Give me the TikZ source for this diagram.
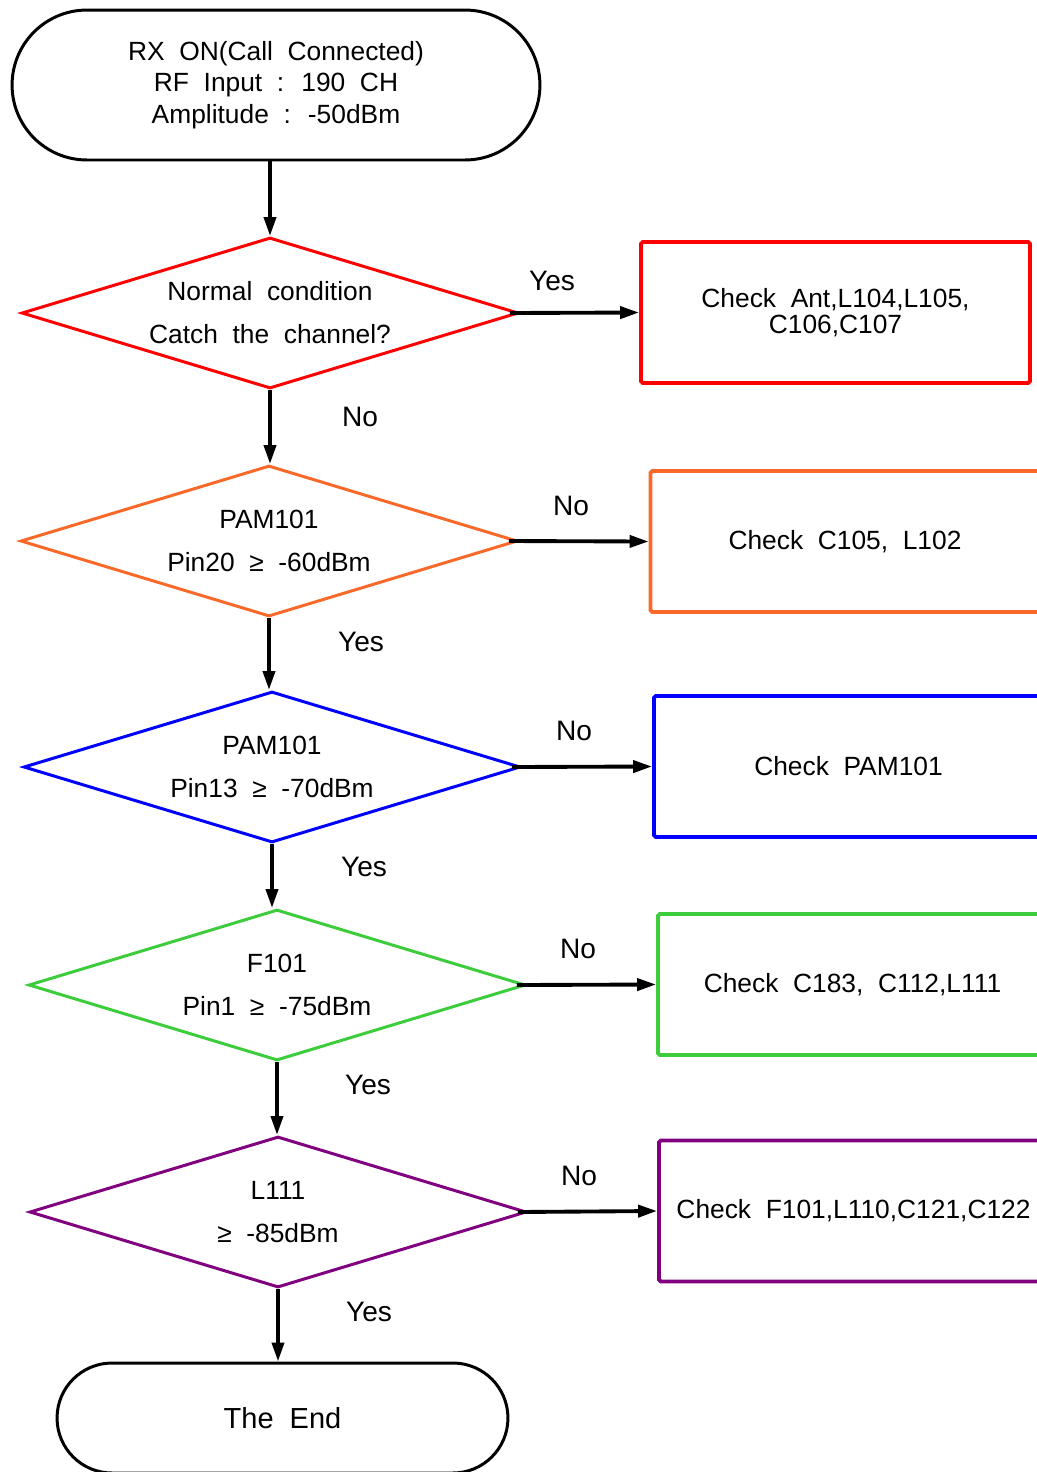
\documentclass[tikz,border=0pt]{standalone}
\usepackage{fontspec}
\setmainfont{Liberation Sans}[WordSpace=2]
\usetikzlibrary{shapes.geometric,arrows.meta}
\definecolor{fcred}{HTML}{FF0000}
\definecolor{fcorange}{HTML}{F9692A}
\definecolor{fcblue}{HTML}{0000FF}
\definecolor{fcgreen}{HTML}{3CCC3C}
\definecolor{fcpurple}{HTML}{800080}

\begin{document}
\begin{tikzpicture}[x=0.02cm, y=-0.02cm,
  term/.style={draw=black, line width=1.7pt, rectangle, rounded corners=1.5cm, minimum width=10.56cm, minimum height=3cm, align=center, font=\fontsize{15}{18.1}\selectfont},
  decide/.style={draw=#1, line width=1.7pt, diamond, shape aspect=3.3, inner sep=0pt, minimum width=9.94cm, minimum height=3.02cm, align=center, font=\fontsize{15}{24.4}\selectfont},
  checkbox/.style={draw=#1, line width=2.2pt, rectangle, rounded corners=1pt, minimum width=7.78cm, minimum height=2.82cm, align=center, font=\fontsize{15}{14.7}\selectfont},
  flow/.style={line width=2.2pt, -{Triangle[length=10.8pt,width=6.8pt]}},
  lbl/.style={font=\fontsize{16}{19}\selectfont}]
  \useasboundingbox (0,0) rectangle (1036,1472);
  \node[term] (start) at (276,85) {RX ON(Call Connected)\\RF Input : 190 CH\\Amplitude : -50dBm};
  \node[decide=fcred] (d1) at (270,313) {Normal condition\\Catch the channel?};
  \node[decide=fcorange] (d2) at (269,541) {PAM101\\Pin20 ≥ -60dBm};
  \node[decide=fcblue] (d3) at (272,767) {PAM101\\Pin13 ≥ -70dBm};
  \node[decide=fcgreen] (d4) at (277,985) {F101\\Pin1 ≥ -75dBm};
  \node[decide=fcpurple] (d5) at (278,1212) {L111\\≥ -85dBm};
  \node[term, minimum width=9.02cm, minimum height=2.2cm, rounded corners=1.1cm, font=\fontsize{16.5}{19}\selectfont] (end) at (282.5,1418) {The End};
  \node[checkbox=fcred] (c1) at (835.5,312.5) {Check Ant,L104,L105,\\C106,C107};
  \node[checkbox=fcorange] (c2) at (845,541.5) {Check C105, L102};
  \node[checkbox=fcblue] (c3) at (848.5,766.5) {Check PAM101};
  \node[checkbox=fcgreen] (c4) at (852.5,984.5) {Check C183, C112,L111};
  \node[checkbox=fcpurple] (c5) at (853.5,1211) {Check F101,L110,C121,C122};
  \node[lbl] (y1) at (552,281) {Yes};
  \node[lbl] (n1) at (360,417) {No};
  \node[lbl] (n2) at (571,506) {No};
  \node[lbl] (y2) at (361,642) {Yes};
  \node[lbl] (n3) at (574,731) {No};
  \node[lbl] (y3) at (364,867) {Yes};
  \node[lbl] (n4) at (578,949) {No};
  \node[lbl] (y4) at (368,1085) {Yes};
  \node[lbl] (n5) at (579,1176) {No};
  \node[lbl] (y5) at (369,1312) {Yes};
  \draw[flow] (start.south -| d1.north) -- (d1.north);
  \draw[flow] (d1.south) -- (d1.south |- d2.north);
  \draw[flow] (d2.south) -- (d2.south |- d3.north);
  \draw[flow] (d3.south) -- (d3.south |- d4.north);
  \draw[flow] (d4.south) -- (d4.south |- d5.north);
  \draw[flow] (d5.south) -- (d5.south |- end.north);
  \draw[flow] ([xshift=-0.2cm]d1.east) -- (c1.west);
  \draw[flow] ([xshift=-0.2cm]d2.east) -- (c2.west);
  \draw[flow] ([xshift=-0.2cm]d3.east) -- (c3.west);
  \draw[flow] ([xshift=-0.2cm]d4.east) -- (c4.west);
  \draw[flow] ([xshift=-0.2cm]d5.east) -- (c5.west);
\end{tikzpicture}
\end{document}
